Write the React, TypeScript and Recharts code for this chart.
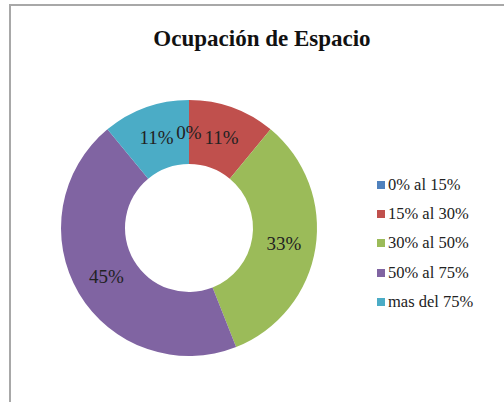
import React from "react";
import { PieChart, Pie, Cell, Legend } from "recharts";

const categories = ["0% al 15%", "15% al 30%", "30% al 50%", "50% al 75%", "mas del 75%"];
const shares = [0, 11, 33, 45, 11];
const colors = ["#4F81BD", "#C0504D", "#9BBB59", "#8064A2", "#4BACC6"];

const data = categories.map((name, i) => ({ name, value: shares[i] }));

const RAD = Math.PI / 180;

const renderLabel = (props: any) => {
  const { cx, cy, midAngle, innerRadius, outerRadius, value } = props;
  const r = (innerRadius + outerRadius) / 2;
  const x = cx + r * Math.cos(-midAngle * RAD);
  const y = cy + r * Math.sin(-midAngle * RAD);
  return (
    <text
      x={x}
      y={y}
      textAnchor="middle"
      dominantBaseline="central"
      fill="#222"
      fontSize={19}
      fontFamily="'Liberation Serif', serif"
    >
      {value}%
    </text>
  );
};

const renderLegend = (props: any) => {
  const { payload } = props;
  return (
    <div>
      {payload.map((entry: any, i: number) => (
        <div
          key={i}
          style={{
            display: "flex",
            alignItems: "center",
            height: 29.3,
            fontFamily: "'Liberation Serif', serif",
            fontSize: 16.5,
            color: "#222",
            whiteSpace: "nowrap",
          }}
        >
          <span
            style={{
              display: "inline-block",
              width: 8,
              height: 8,
              background: entry.color,
              marginRight: 3,
            }}
          />
          {entry.value}
        </div>
      ))}
    </div>
  );
};

export default function App() {
  return (
    <div
      style={{
        position: "fixed",
        left: 0,
        top: 0,
        width: 504,
        height: 402,
        overflow: "hidden",
        background: "#fff",
      }}
    >
      <div
        style={{
          position: "absolute",
          left: 9,
          top: 4,
          width: 600,
          height: 500,
          borderLeft: "2px solid #a8a8a8",
          borderTop: "2px solid #a8a8a8",
        }}
      />
      <div
        style={{
          position: "absolute",
          left: 0,
          top: 27,
          width: 524,
          textAlign: "center",
          fontFamily: "'Liberation Serif', serif",
          fontWeight: "bold",
          fontSize: 23,
          lineHeight: "23px",
          color: "#111",
        }}
      >
        Ocupación de Espacio
      </div>
      <div style={{ position: "absolute", left: 0, top: 0 }}>
        <PieChart width={504} height={402} margin={{ top: 0, right: 0, bottom: 0, left: 0 }}>
          <Pie
            data={data}
            dataKey="value"
            nameKey="name"
            cx={189}
            cy={228}
            innerRadius={64}
            outerRadius={128}
            startAngle={90}
            endAngle={-270}
            stroke="none"
            label={renderLabel}
            labelLine={false}
            isAnimationActive={false}
          >
            {data.map((d, i) => (
              <Cell key={d.name} fill={colors[i]} />
            ))}
          </Pie>
          <Legend
            content={renderLegend}
            wrapperStyle={{ position: "absolute", left: 377, top: 170, width: 125 }}
          />
        </PieChart>
      </div>
    </div>
  );
}
